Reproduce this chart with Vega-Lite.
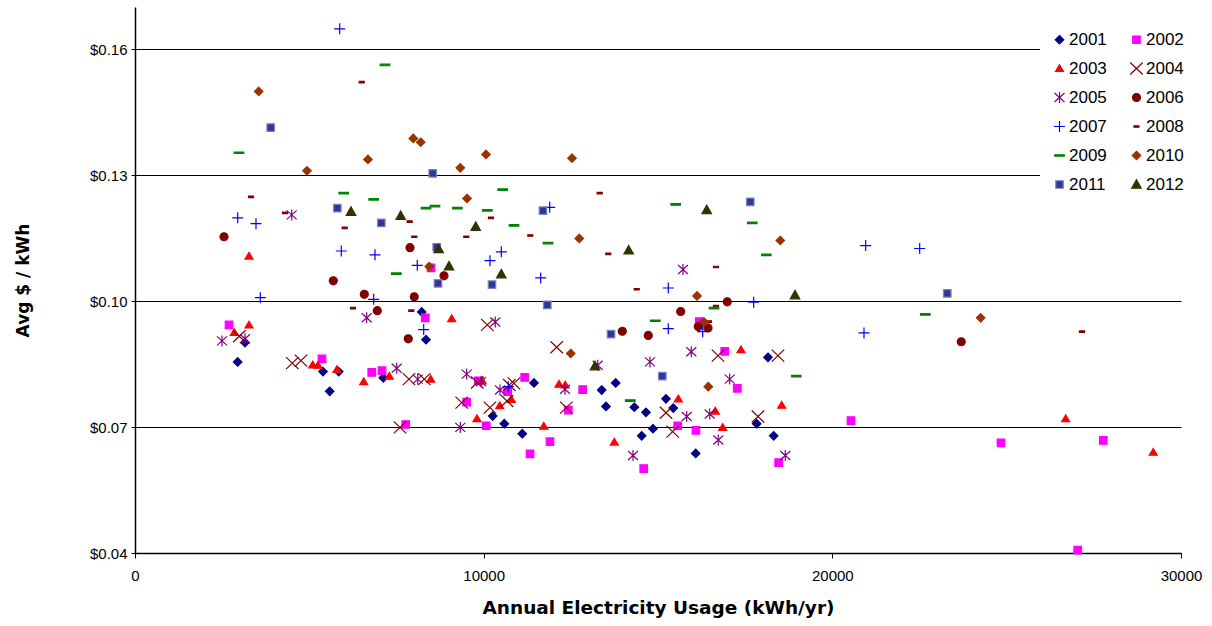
{
  "$schema": "https://vega.github.io/schema/vega-lite/v6.json",
  "width": 1046,
  "height": 546,
  "autosize": {"type": "none"},
  "padding": {"left": 135, "top": 7, "right": 31, "bottom": 73},
  "background": "white",
  "config": {
    "view": {"stroke": null},
    "font": "Liberation Sans",
    "axis": {"labelFont": "Liberation Sans", "titleFont": "DejaVu Sans", "labelColor": "black", "titleColor": "black", "domainColor": "black", "tickColor": "black"},
    "legend": {
      "orient": "none", "legendX": 905, "legendY": 13, "columns": 2, "title": null,
      "fillColor": "white", "padding": 11, "labelFont": "Liberation Sans", "labelFontSize": 17, "labelColor": "black",
      "symbolSize": 100, "symbolStrokeWidth": 1.2, "rowPadding": 11, "columnPadding": 20, "labelOffset": 1, "symbolOpacity": 1
    }
  },
  "data": {"values": [
    {"year":"2001","x":3155,"y":0.0901},{"year":"2001","x":2945,"y":0.0855},{"year":"2001","x":5392,"y":0.0832},{"year":"2001","x":5842,"y":0.0832},{"year":"2001","x":7121,"y":0.0817},{"year":"2001","x":5584,"y":0.0785},{"year":"2001","x":8223,"y":0.0974},{"year":"2001","x":8346,"y":0.0908},{"year":"2001","x":11443,"y":0.0805},{"year":"2001","x":10259,"y":0.0726},{"year":"2001","x":10592,"y":0.0708},{"year":"2001","x":11108,"y":0.0684},{"year":"2001","x":13385,"y":0.0788},{"year":"2001","x":13787,"y":0.0805},{"year":"2001","x":13508,"y":0.0749},{"year":"2001","x":14320,"y":0.0747},{"year":"2001","x":14655,"y":0.0735},{"year":"2001","x":14532,"y":0.0679},{"year":"2001","x":14856,"y":0.0696},{"year":"2001","x":15229,"y":0.0767},{"year":"2001","x":15438,"y":0.0745},{"year":"2001","x":16081,"y":0.0637},{"year":"2001","x":17830,"y":0.0708},{"year":"2001","x":18318,"y":0.0679},{"year":"2001","x":18154,"y":0.0866},
    {"year":"2002","x":2696,"y":0.0943},{"year":"2002","x":5363,"y":0.0862},{"year":"2002","x":6789,"y":0.0830},{"year":"2002","x":7084,"y":0.0834},{"year":"2002","x":7764,"y":0.0706},{"year":"2002","x":8326,"y":0.0960},{"year":"2002","x":8489,"y":0.1079},{"year":"2002","x":9846,"y":0.0810},{"year":"2002","x":10689,"y":0.0784},{"year":"2002","x":9513,"y":0.0759},{"year":"2002","x":10075,"y":0.0703},{"year":"2002","x":11177,"y":0.0818},{"year":"2002","x":11329,"y":0.0636},{"year":"2002","x":11902,"y":0.0665},{"year":"2002","x":12427,"y":0.0740},{"year":"2002","x":12840,"y":0.0789},{"year":"2002","x":14590,"y":0.0601},{"year":"2002","x":15565,"y":0.0703},{"year":"2002","x":16089,"y":0.0692},{"year":"2002","x":16184,"y":0.0951},{"year":"2002","x":16913,"y":0.0880},{"year":"2002","x":17274,"y":0.0792},{"year":"2002","x":18461,"y":0.0615},{"year":"2002","x":20535,"y":0.0715},{"year":"2002","x":24837,"y":0.0662},{"year":"2002","x":27771,"y":0.0668},{"year":"2002","x":27037,"y":0.0407},
    {"year":"2003","x":3270,"y":0.1107},{"year":"2003","x":3270,"y":0.0943},{"year":"2003","x":2848,"y":0.0925},{"year":"2003","x":5096,"y":0.0848},{"year":"2003","x":5248,"y":0.0847},{"year":"2003","x":5793,"y":0.0837},{"year":"2003","x":7293,"y":0.0821},{"year":"2003","x":6559,"y":0.0808},{"year":"2003","x":8481,"y":0.0814},{"year":"2003","x":9083,"y":0.0958},{"year":"2003","x":9961,"y":0.0810},{"year":"2003","x":9809,"y":0.0720},{"year":"2003","x":10460,"y":0.0751},{"year":"2003","x":10792,"y":0.0766},{"year":"2003","x":11722,"y":0.0702},{"year":"2003","x":12160,"y":0.0802},{"year":"2003","x":12341,"y":0.0800},{"year":"2003","x":13746,"y":0.0664},{"year":"2003","x":15582,"y":0.0767},{"year":"2003","x":16643,"y":0.0738},{"year":"2003","x":16855,"y":0.0699},{"year":"2003","x":17380,"y":0.0884},{"year":"2003","x":18547,"y":0.0752},{"year":"2003","x":26692,"y":0.0720},{"year":"2003","x":29205,"y":0.0640},
    {"year":"2004","x":2991,"y":0.0916},{"year":"2004","x":4511,"y":0.0852},{"year":"2004","x":4761,"y":0.0858},{"year":"2004","x":7600,"y":0.0699},{"year":"2004","x":7858,"y":0.0814},{"year":"2004","x":8297,"y":0.0814},{"year":"2004","x":9370,"y":0.0758},{"year":"2004","x":9817,"y":0.0806},{"year":"2004","x":10104,"y":0.0943},{"year":"2004","x":10181,"y":0.0746},{"year":"2004","x":10669,"y":0.0762},{"year":"2004","x":10735,"y":0.0800},{"year":"2004","x":10870,"y":0.0804},{"year":"2004","x":12094,"y":0.0890},{"year":"2004","x":12370,"y":0.0746},{"year":"2004","x":15229,"y":0.0734},{"year":"2004","x":15421,"y":0.0689},{"year":"2004","x":16720,"y":0.0870},{"year":"2004","x":17868,"y":0.0725},{"year":"2004","x":18441,"y":0.0870},
    {"year":"2005","x":2495,"y":0.0905},{"year":"2005","x":3155,"y":0.0910},{"year":"2005","x":4494,"y":0.1205},{"year":"2005","x":6645,"y":0.0960},{"year":"2005","x":7506,"y":0.0840},{"year":"2005","x":8108,"y":0.0814},{"year":"2005","x":9513,"y":0.0826},{"year":"2005","x":9330,"y":0.0699},{"year":"2005","x":9923,"y":0.0808},{"year":"2005","x":10333,"y":0.0950},{"year":"2005","x":10468,"y":0.0788},{"year":"2005","x":12332,"y":0.0790},{"year":"2005","x":13270,"y":0.0847},{"year":"2005","x":14283,"y":0.0632},{"year":"2005","x":14770,"y":0.0855},{"year":"2005","x":15717,"y":0.1075},{"year":"2005","x":15823,"y":0.0725},{"year":"2005","x":15955,"y":0.0879},{"year":"2005","x":16482,"y":0.0731},{"year":"2005","x":16729,"y":0.0669},{"year":"2005","x":17056,"y":0.0814},{"year":"2005","x":18651,"y":0.0632},
    {"year":"2006","x":2553,"y":0.1153},{"year":"2006","x":5687,"y":0.1048},{"year":"2006","x":6576,"y":0.1016},{"year":"2006","x":6949,"y":0.0977},{"year":"2006","x":7887,"y":0.1127},{"year":"2006","x":8010,"y":0.1010},{"year":"2006","x":8862,"y":0.1060},{"year":"2006","x":7838,"y":0.0910},{"year":"2006","x":13976,"y":0.0928},{"year":"2006","x":14721,"y":0.0918},{"year":"2006","x":15651,"y":0.0975},{"year":"2006","x":16155,"y":0.0939},{"year":"2006","x":16434,"y":0.0936},{"year":"2006","x":16987,"y":0.0998},{"year":"2006","x":23698,"y":0.0903},
    {"year":"2007","x":5871,"y":0.1648},{"year":"2007","x":2945,"y":0.1198},{"year":"2007","x":3470,"y":0.1184},{"year":"2007","x":5917,"y":0.1119},{"year":"2007","x":6883,"y":0.1110},{"year":"2007","x":3594,"y":0.1008},{"year":"2007","x":6846,"y":0.1004},{"year":"2007","x":8096,"y":0.1085},{"year":"2007","x":8280,"y":0.0932},{"year":"2007","x":10181,"y":0.1096},{"year":"2007","x":10506,"y":0.1117},{"year":"2007","x":11635,"y":0.1055},{"year":"2007","x":11894,"y":0.1223},{"year":"2007","x":10706,"y":0.0796},{"year":"2007","x":15295,"y":0.1031},{"year":"2007","x":15295,"y":0.0934},{"year":"2007","x":16282,"y":0.0927},{"year":"2007","x":17744,"y":0.0997},{"year":"2007","x":20908,"y":0.0924},{"year":"2007","x":20956,"y":0.1132},{"year":"2007","x":22505,"y":0.1125},
    {"year":"2008","x":6502,"y":0.1521},{"year":"2008","x":3327,"y":0.1248},{"year":"2008","x":4302,"y":0.1210},{"year":"2008","x":6014,"y":0.1174},{"year":"2008","x":6252,"y":0.0983},{"year":"2008","x":7878,"y":0.1189},{"year":"2008","x":8010,"y":0.1153},{"year":"2008","x":7924,"y":0.0977},{"year":"2008","x":9502,"y":0.1153},{"year":"2008","x":10210,"y":0.1198},{"year":"2008","x":11337,"y":0.1156},{"year":"2008","x":13328,"y":0.1257},{"year":"2008","x":13574,"y":0.1112},{"year":"2008","x":14389,"y":0.1028},{"year":"2008","x":16663,"y":0.1081},{"year":"2008","x":16663,"y":0.0988},{"year":"2008","x":16462,"y":0.0951},{"year":"2008","x":27160,"y":0.0927},
    {"year":"2009","x":7170,"y":0.1562},{"year":"2009","x":2983,"y":0.1353},{"year":"2009","x":5985,"y":0.1257},{"year":"2009","x":6846,"y":0.1242},{"year":"2009","x":7494,"y":0.1065},{"year":"2009","x":8346,"y":0.1221},{"year":"2009","x":8604,"y":0.1226},{"year":"2009","x":9244,"y":0.1221},{"year":"2009","x":10104,"y":0.1216},{"year":"2009","x":10546,"y":0.1265},{"year":"2009","x":10870,"y":0.1180},{"year":"2009","x":11845,"y":0.1138},{"year":"2009","x":14922,"y":0.0953},{"year":"2009","x":14205,"y":0.0763},{"year":"2009","x":15507,"y":0.1230},{"year":"2009","x":17704,"y":0.1186},{"year":"2009","x":18106,"y":0.1110},{"year":"2009","x":16606,"y":0.0983},{"year":"2009","x":18966,"y":0.0821},{"year":"2009","x":22666,"y":0.0968},
    {"year":"2010","x":3548,"y":0.1499},{"year":"2010","x":4933,"y":0.1310},{"year":"2010","x":6682,"y":0.1337},{"year":"2010","x":7982,"y":0.1387},{"year":"2010","x":8194,"y":0.1378},{"year":"2010","x":9330,"y":0.1317},{"year":"2010","x":10067,"y":0.1349},{"year":"2010","x":12533,"y":0.1340},{"year":"2010","x":9522,"y":0.1244},{"year":"2010","x":8441,"y":0.1082},{"year":"2010","x":12742,"y":0.1149},{"year":"2010","x":12496,"y":0.0875},{"year":"2010","x":16118,"y":0.1012},{"year":"2010","x":16319,"y":0.0950},{"year":"2010","x":16442,"y":0.0796},{"year":"2010","x":18507,"y":0.1144},{"year":"2010","x":24255,"y":0.0960},
    {"year":"2011","x":3892,"y":0.1413},{"year":"2011","x":8538,"y":0.1304},{"year":"2011","x":5802,"y":0.1221},{"year":"2011","x":7064,"y":0.1186},{"year":"2011","x":11701,"y":0.1215},{"year":"2011","x":8653,"y":0.1128},{"year":"2011","x":8690,"y":0.1042},{"year":"2011","x":10239,"y":0.1039},{"year":"2011","x":11825,"y":0.0991},{"year":"2011","x":13652,"y":0.0921},{"year":"2011","x":15123,"y":0.0821},{"year":"2011","x":17647,"y":0.1236},{"year":"2011","x":23297,"y":0.1018},
    {"year":"2012","x":6195,"y":0.1213},{"year":"2012","x":7620,"y":0.1203},{"year":"2012","x":9771,"y":0.1177},{"year":"2012","x":8710,"y":0.1124},{"year":"2012","x":9006,"y":0.1083},{"year":"2012","x":10506,"y":0.1064},{"year":"2012","x":14159,"y":0.1121},{"year":"2012","x":13193,"y":0.0845},{"year":"2012","x":16396,"y":0.1217},{"year":"2012","x":18929,"y":0.1014}
  ]},
  "mark": {"type": "point", "size": 100, "strokeWidth": 1.2, "opacity": 1},
  "encoding": {
    "x": {
      "field": "x", "type": "quantitative",
      "scale": {"domain": [0, 30000], "nice": false, "zero": false},
      "axis": {"values": [0, 10000, 20000, 30000], "format": "d", "grid": false, "title": "Annual Electricity Usage (kWh/yr)", "titleFontSize": 18.5, "titleFontWeight": "bold", "titlePadding": 15, "labelFontSize": 15, "labelPadding": 10, "tickSize": 5, "domainWidth": 1.5, "labelFlush": false}
    },
    "y": {
      "field": "y", "type": "quantitative",
      "scale": {"domain": [0.04, 0.17], "nice": false, "zero": false},
      "axis": {"values": [0.04, 0.07, 0.10, 0.13, 0.16], "format": "$.2f", "grid": true, "gridColor": "black", "gridWidth": 1, "gridOpacity": 1, "title": "Avg $ / kWh", "titleFontSize": 17, "titleFontWeight": "bold", "titlePadding": 57, "labelFontSize": 15, "labelPadding": 4, "tickSize": 4, "domainWidth": 1.5}
    },
    "shape": {
      "field": "year", "type": "nominal",
      "scale": {
        "domain": ["2001","2003","2005","2007","2009","2011","2002","2004","2006","2008","2010","2012"],
        "range": [
          "M0,-0.85L0.85,0L0,0.85L-0.85,0Z",
          "M0,-0.75L0.8,0.6L-0.8,0.6Z",
          "M-1,-0.9L1,0.9M1,-0.9L-1,0.9M0,-1.1L0,1.1",
          "M-1.1,0H1.1M0,-1.1V1.1",
          "M-0.95,-0.15H0.95V0.15H-0.95Z",
          "M-0.75,-0.75H0.75V0.75H-0.75Z",
          "M-0.75,-0.75H0.75V0.75H-0.75Z",
          "M-1.25,-1.2L1.25,1.2M1.25,-1.2L-1.25,1.2",
          "M-0.8,0A0.8,0.8 0 1,0 0.8,0A0.8,0.8 0 1,0 -0.8,0Z",
          "M-0.5,-0.15H0.5V0.15H-0.5Z",
          "M0,-0.85L0.85,0L0,0.85L-0.85,0Z",
          "M0,-0.95L0.95,0.75L-0.95,0.75Z"
        ]
      }
    },
    "fill": {
      "field": "year", "type": "nominal",
      "scale": {
        "domain": ["2001","2003","2005","2007","2009","2011","2002","2004","2006","2008","2010","2012"],
        "range": ["#000080","#FF0000","#800080","#0000FF","#008000","#333399","#FF00FF","#800000","#800000","#800000","#993300","#333300"]
      }
    },
    "stroke": {
      "field": "year", "type": "nominal",
      "scale": {
        "domain": ["2001","2003","2005","2007","2009","2011","2002","2004","2006","2008","2010","2012"],
        "range": ["#000080","#FF0000","#800080","#0000FF","#008000","#7088c0","#FF00FF","#800000","#800000","#800000","#993300","#333300"]
      }
    }
  }
}
